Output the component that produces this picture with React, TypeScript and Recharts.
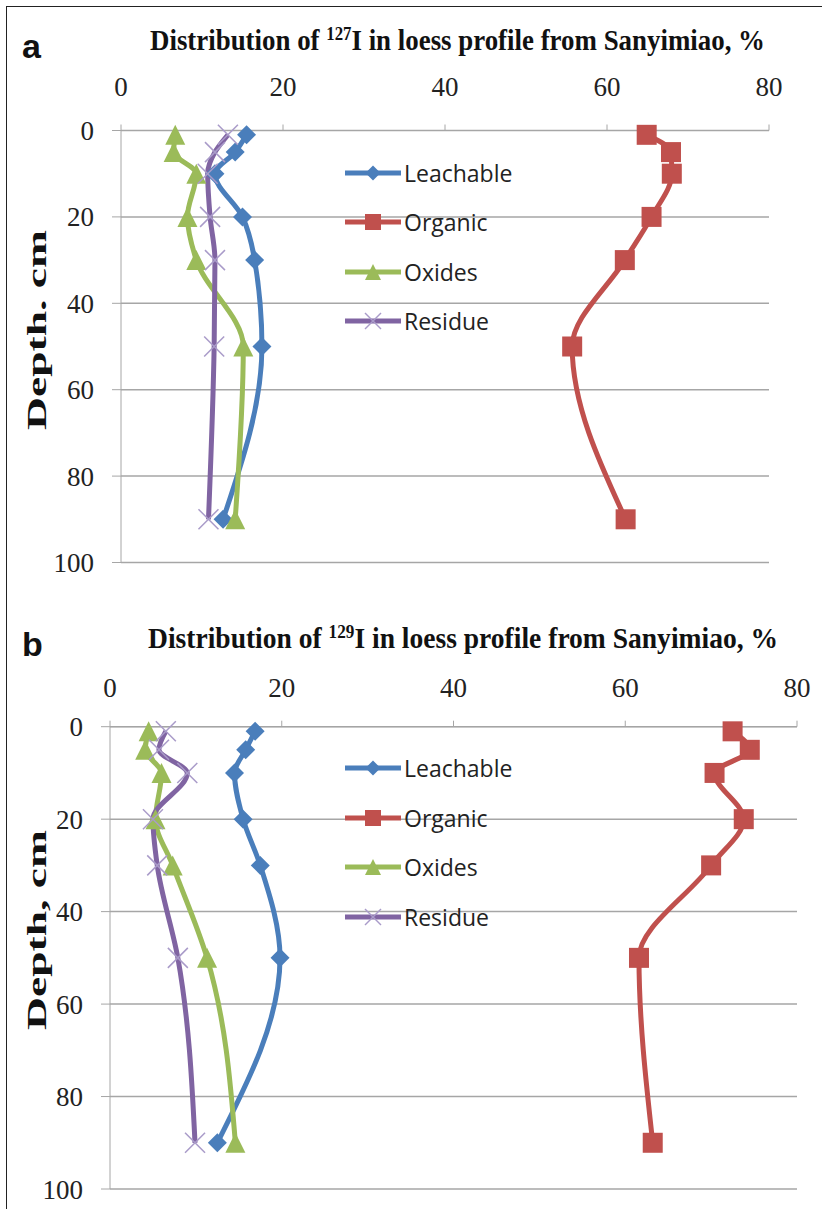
import React from 'react';
import { LineChart, Line, XAxis, YAxis, CartesianGrid, Legend } from 'recharts';

// depth of each sample, cm
const depths = [1, 5, 10, 20, 30, 50, 90];

const seriesKeys = ['leachable', 'organic', 'oxides', 'residue'];
const seriesNames = ['Leachable', 'Organic', 'Oxides', 'Residue'];
const seriesColors = ['#4a7ebb', '#c0504d', '#9bbb59', '#8064a2'];
const seriesMarkers = ['diamond', 'square', 'triangle', 'cross'];

// panel a: 127I, %
const leachableA = [15.5, 14.1, 11.6, 15.0, 16.5, 17.4, 12.6];
const organicA = [64.9, 67.9, 68.0, 65.5, 62.2, 55.7, 62.3];
const oxidesA = [6.7, 6.5, 9.3, 8.2, 9.3, 15.1, 14.1];
const residueA = [13.2, 11.6, 10.7, 11.0, 11.6, 11.5, 10.8];

// panel b: 129I, %
const leachableB = [16.9, 15.8, 14.5, 15.5, 17.5, 19.8, 12.5];
const organicB = [72.5, 74.5, 70.4, 73.8, 70.0, 61.6, 63.2];
const oxidesB = [4.5, 4.1, 6.0, 5.3, 7.3, 11.3, 14.6];
const residueB = [6.5, 5.7, 9.0, 5.0, 5.5, 7.9, 9.9];

const valueTicks = [0, 20, 40, 60, 80];
const depthTicks = [0, 20, 40, 60, 80, 100];

const buildRows = (cols: number[][]) =>
  depths.map((depth, i) => {
    const row: any = { depth };
    seriesKeys.forEach((k, j) => (row[k] = cols[j][i]));
    return row;
  });

const dataA = buildRows([leachableA, organicA, oxidesA, residueA]);
const dataB = buildRows([leachableB, organicB, oxidesB, residueB]);

const serif = '"Liberation Serif", "Times New Roman", serif';
const axisGray = '#a6a6a6';

const Marker = ({ kind, cx, cy, s, color }: any) => {
  if (cx == null || cy == null) return null;
  const h = s / 2;
  if (kind === 'diamond')
    return <path d={`M${cx},${cy - h}L${cx + h},${cy}L${cx},${cy + h}L${cx - h},${cy}Z`} fill={color} />;
  if (kind === 'square') return <rect x={cx - h} y={cy - h} width={s} height={s} fill={color} />;
  if (kind === 'triangle')
    return <path d={`M${cx},${cy - h}L${cx + h},${cy + h}L${cx - h},${cy + h}Z`} fill={color} />;
  return (
    <g stroke="#a99bc9" strokeWidth={1.5}>
      <line x1={cx - h} y1={cy - h} x2={cx + h} y2={cy + h} />
      <line x1={cx - h} y1={cy + h} x2={cx + h} y2={cy - h} />
    </g>
  );
};

const markerSize = [19, 20, 20, 20];

const LegendBox = () => (
  <div style={{ display: 'flex', flexDirection: 'column' }}>
    {seriesNames.map((name, i) => (
      <div key={name} style={{ display: 'flex', alignItems: 'center', height: 49.5 }}>
        <svg width={56} height={22}>
          <line x1={0} y1={11} x2={56} y2={11} stroke={seriesColors[i]} strokeWidth={5} />
          <Marker kind={seriesMarkers[i]} cx={28} cy={11} s={i === 0 ? 15 : 16} color={seriesColors[i]} />
        </svg>
        <span style={{ marginLeft: 3, fontFamily: '"Open Sans", sans-serif', fontSize: 23, color: '#222' }}>
          {name}
        </span>
      </div>
    ))}
  </div>
);

type PanelProps = {
  data: any[];
  top: number;
  height: number;
  margin: { top: number; right: number; bottom: number; left: number };
  xTickMargin: number;
  letter: string;
  letterBaseline: number;
  isotope: string;
  titleX: number;
  titleBaseline: number;
  titleLength: number;
  yLabel: string;
  legendTop: number;
};

const Panel = (p: PanelProps) => (
  <div style={{ position: 'absolute', left: 0, top: p.top, width: 822, height: p.height }}>
    <LineChart width={822} height={p.height} data={p.data} layout="vertical" margin={p.margin}>
      <CartesianGrid vertical={false} stroke={axisGray} strokeWidth={1.5} />
      <XAxis
        type="number"
        orientation="top"
        domain={[0, 80]}
        ticks={valueTicks}
        stroke={axisGray}
        tickSize={6}
        tickMargin={p.xTickMargin}
        tick={{ fill: '#222', fontSize: 27, fontFamily: serif }}
      />
      <YAxis
        type="number"
        dataKey="depth"
        domain={[0, 100]}
        ticks={depthTicks}
        width={60}
        stroke={axisGray}
        tickSize={9}
        tickMargin={18}
        tick={{ fill: '#222', fontSize: 27, fontFamily: serif }}
      />
      {seriesKeys.map((k, i) => (
        <Line
          key={k}
          dataKey={k}
          name={seriesNames[i]}
          type="monotone"
          stroke={seriesColors[i]}
          strokeWidth={5}
          isAnimationActive={false}
          dot={(d: any) => (
            <Marker
              key={`${k}-${d.index}`}
              kind={seriesMarkers[i]}
              cx={d.cx}
              cy={d.cy}
              s={markerSize[i]}
              color={seriesColors[i]}
            />
          )}
          activeDot={false}
        />
      ))}
      <Legend
        layout="vertical"
        verticalAlign="middle"
        align="center"
        wrapperStyle={{ left: 345, top: p.legendTop, width: 200 }}
        content={() => <LegendBox />}
      />
    </LineChart>
    <svg
      width={822}
      height={p.height}
      style={{ position: 'absolute', left: 0, top: 0, pointerEvents: 'none' }}
    >
      <text x={22} y={p.letterBaseline} fontFamily='"Liberation Sans", Arial, sans-serif' fontWeight="bold" fontSize={34} fill="#111">
        {p.letter}
      </text>
      <g transform={`translate(${p.titleX}, ${p.titleBaseline}) scale(1, 1.2)`}>
        <text
          x={0}
          y={0}
          fontFamily={serif}
          fontWeight="bold"
          fontSize={24}
          fill="#111"
          textLength={p.titleLength}
          lengthAdjust="spacingAndGlyphs"
        >
          Distribution of{' '}
          <tspan dy={-8} fontSize={15}>
            {p.isotope}
          </tspan>
          <tspan dy={8}>I in loess profile from Sanyimiao, %</tspan>
        </text>
      </g>
      <text
        transform="translate(37, 330) rotate(-90)"
        textAnchor="middle"
        dominantBaseline="central"
        fontFamily={serif}
        fontWeight="bold"
        fontSize={27}
        fill="#111"
        textLength={200}
        lengthAdjust="spacingAndGlyphs"
      >
        {p.yLabel}
      </text>
    </svg>
  </div>
);

export default function App() {
  return (
    <div
      style={{
        position: 'absolute',
        left: 0,
        top: 0,
        width: 822,
        height: 1209,
        background: '#fff',
        overflow: 'hidden',
      }}
    >
      <div
        style={{
          position: 'absolute',
          left: 6,
          top: 6,
          width: 840,
          height: 1230,
          borderLeft: '1.5px solid #222',
          borderTop: '1.5px solid #222',
        }}
      />
      <Panel
        data={dataA}
        top={0}
        height={600}
        margin={{ top: 100.5, right: 53, bottom: 37.5, left: 61 }}
        xTickMargin={29}
        letter="a"
        letterBaseline={58}
        isotope="127"
        titleX={150}
        titleBaseline={50}
        titleLength={615}
        yLabel="Depth. cm"
        legendTop={148}
      />
      <Panel
        data={dataB}
        top={600}
        height={609}
        margin={{ top: 96.7, right: 25, bottom: 20, left: 50 }}
        xTickMargin={24}
        letter="b"
        letterBaseline={56}
        isotope="129"
        titleX={148}
        titleBaseline={48}
        titleLength={630}
        yLabel="Depth, cm"
        legendTop={143.5}
      />
    </div>
  );
}
